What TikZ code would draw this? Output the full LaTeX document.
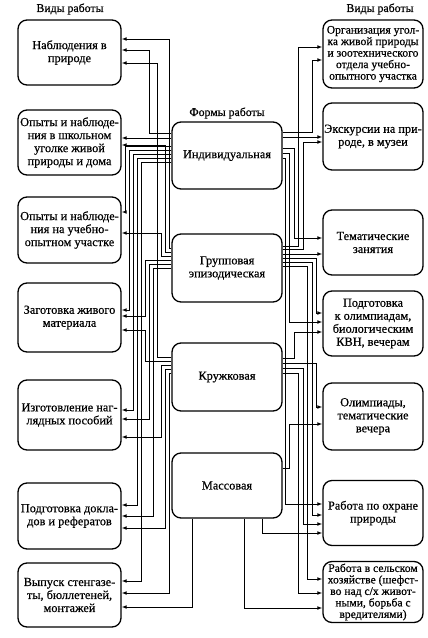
\documentclass[tikz,border=0pt]{standalone}
\usepackage{fontspec}
\setmainfont{Liberation Serif}[FakeBold=0.5]
\usetikzlibrary{arrows.meta}
\tikzset{
  box/.style={draw, line width=1.3pt, rounded corners=9pt, align=center, inner sep=1pt,
    font=\fontsize{12.3}{13}\selectfont},
  lbox/.style={box, minimum width=103pt},
  cbox/.style={box, minimum width=110pt},
  rbox/.style={box, minimum width=100pt},
  small/.style={font=\fontsize{11.6}{11.5}\selectfont},
  lbl/.style={font=\fontsize{11.8}{12}\selectfont, inner sep=0pt},
  conn/.style={line width=1.0pt, -{Latex[length=5pt,width=3.8pt]}},
}
\begin{document}
\begin{tikzpicture}[x=1pt,y=-1pt]
\useasboundingbox (0,0) rectangle (428,638);
% labels
\node[lbl] (vl) at (70,9) {Виды работы};
\node[lbl] (vr) at (380,9) {Виды работы};
\node[lbl] (fr) at (227,113) {Формы работы};
% left boxes
\node[lbox, minimum height=65pt] (L1) at (69.5,52.5) {Наблюдения в\\природе};
\node[lbox, minimum height=65pt] (L2) at (69.5,142.5) {Опыты и наблюде-\\ния в школьном\\уголке живой\\природы и дома};
\node[lbox, minimum height=66pt] (L3) at (69.5,230) {Опыты и наблюде-\\ния на учебно-\\опытном участке};
\node[lbox, minimum height=69pt] (L4) at (69.5,317.5) {Заготовка живого\\материала};
\node[lbox, minimum height=70pt] (L5) at (69.5,415) {Изготовление наг-\\лядных пособий};
\node[lbox, minimum height=66pt] (L6) at (69.5,516) {Подготовка докла-\\дов и рефератов};
\node[lbox, minimum height=64pt] (L7) at (69.5,595) {Выпуск стенгазе-\\ты, бюллетеней,\\монтажей};
% centre boxes
\node[cbox, minimum height=67pt] (I) at (227,155.5) {Индивидуальная};
\node[cbox, minimum height=68pt] (G) at (227,268) {Групповая\\эпизодическая};
\node[cbox, minimum height=68pt] (K) at (227,377) {Кружковая};
\node[cbox, minimum height=65pt] (M) at (227,485.5) {Массовая};
% right boxes
\node[rbox, small, minimum height=68pt] (R1) at (373,54) {Организация угол-\\ка живой природы\\и зоотехнического\\отдела учебно-\\опытного участка};
\node[rbox, minimum height=67pt] (R2) at (373,136.5) {Экскурсии на при-\\роде, в музеи};
\node[rbox, minimum height=65pt] (R3) at (373,242.5) {Тематические\\занятия};
\node[rbox, minimum height=65pt] (R4) at (373,323.5) {Подготовка\\к олимпиадам,\\биологическим\\КВН, вечерам};
\node[rbox, minimum height=67pt] (R5) at (373,416.5) {Олимпиады,\\тематические\\вечера};
\node[rbox, minimum height=65pt] (R6) at (373,513) {Работа по охране\\природы};
\node[rbox, small, minimum height=61pt] (R7) at (373,592) {Работа в сельском\\хозяйстве (шефст-\\во над с/х живот-\\ными, борьба с\\вредителями)};
% left connectors
\foreach \s/\e/\c/\t/\ty in {I/133/149/L1/50, I/146/125/L3/212, I/150/129/L4/310,
  I/154/133/L5/410, I/158/137/L6/505, I/162/141/L7/581,
  G/248/169/L1/39, G/252/165/L2/145, G/256/161/L3/233, G/260/145/L4/316,
  G/264/149/L5/419, G/268/153/L6/516,
  K/357/157/L1/63, K/361/145/L4/330, K/365/161/L5/437, K/369/165/L6/528, K/373/169/L7/593}
  \draw[conn] (\s.west |- 0,\e) -| (\c,\ty) -- (\t.east |- 0,\ty);
\draw[conn] (I.west |- 0,138) -- (L2.east |- 0,138);
% right connectors
\foreach \s/\e/\c/\t/\ty in {I/132/312/R1/60, G/246/298.5/R1/47, G/249/303/R2/142,
  I/148/294/R3/238, I/153/289.5/R4/322, I/158/285/R6/504,
  G/258/316.5/R4/313, G/262/312/R6/515, G/266/307.5/R7/579,
  K/358/294/R4/332, K/363/316.5/R5/407, K/368/303/R6/524, K/373/298.5/R7/593,
  M/468/289.5/R5/424}
  \draw[conn] (\s.east |- 0,\e) -| (\c,\ty) -- (\t.west |- 0,\ty);
\draw[conn] (I.east |- 0,137) -- (R2.west |- 0,137);
\draw[conn] (G.east |- 0,254) -- (R3.west |- 0,254);
% bottom of Massovaya
\draw[conn] (M.south -| 192,0) |- (L7.east |- 0,607);
\draw[conn] (M.south -| 244,0) |- (R7.west |- 0,608);
\draw[conn] (M.south -| 262,0) |- (R6.west |- 0,533);
\end{tikzpicture}
\end{document}
